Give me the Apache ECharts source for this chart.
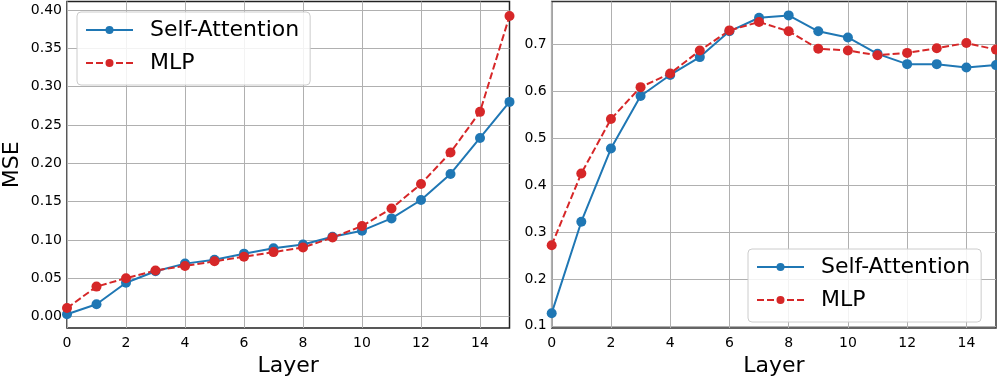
<!DOCTYPE html>
<html>
<head>
<meta charset="utf-8">
<script src="https://cdn.jsdelivr.net/npm/echarts@6/dist/echarts.min.js"></script>
<style>
  html, body { margin: 0; padding: 0; background: #fff; }
  #chart { width: 997px; height: 382px; }
</style>
</head>
<body>
<div id="chart"></div>
<script>
const layers = [0, 1, 2, 3, 4, 5, 6, 7, 8, 9, 10, 11, 12, 13, 14, 15];

// left panel: MSE per layer
const mseAttn = [0.003, 0.016, 0.044, 0.059, 0.069, 0.074, 0.082, 0.089, 0.094, 0.104, 0.112, 0.128, 0.152, 0.186, 0.233, 0.280];
const mseMlp = [0.011, 0.039, 0.050, 0.060, 0.066, 0.072, 0.078, 0.084, 0.090, 0.103, 0.118, 0.141, 0.173, 0.214, 0.267, 0.392];

// right panel
const rightAttn = [0.127, 0.322, 0.478, 0.590, 0.635, 0.673, 0.728, 0.757, 0.762, 0.728, 0.715, 0.680, 0.658, 0.658, 0.651, 0.656];
const rightMlp = [0.272, 0.425, 0.541, 0.609, 0.638, 0.687, 0.730, 0.748, 0.728, 0.691, 0.687, 0.677, 0.682, 0.692, 0.703, 0.689];

const xTicks = [0, 2, 4, 6, 8, 10, 12, 14];
const leftYTicks = [0, 0.05, 0.1, 0.15, 0.2, 0.25, 0.3, 0.35, 0.4];
const rightYTicks = [0.1, 0.2, 0.3, 0.4, 0.5, 0.6, 0.7];

const FONT = 'DejaVu Sans';
const BLUE = '#1f77b4';
const RED = '#d62728';

const chart = echarts.init(document.getElementById('chart'));

const pairs = (ys) => layers.map((x, i) => [x, ys[i]]);

const xAxisBase = (gridIndex) => ({
  type: 'value',
  gridIndex: gridIndex,
  min: 0,
  max: 15,
  name: 'Layer',
  nameLocation: 'middle',
  nameGap: 27,
  nameTextStyle: { fontFamily: FONT, fontSize: 22, color: '#000' },
  axisLine: { show: false },
  axisTick: { show: false, customValues: xTicks },
  axisLabel: { customValues: xTicks, fontFamily: FONT, fontSize: 14, color: '#000', margin: 8 },
  splitLine: { show: true, lineStyle: { color: '#b0b0b0', width: 1 } }
});

const yAxisBase = (gridIndex, ticks, min, max, digits) => ({
  type: 'value',
  gridIndex: gridIndex,
  min: min,
  max: max,
  axisLine: { show: false },
  axisTick: { show: false, customValues: ticks },
  axisLabel: {
    customValues: ticks,
    fontFamily: FONT, fontSize: 14, color: '#000', margin: 5,
    formatter: (v) => v.toFixed(digits)
  },
  splitLine: { show: true, lineStyle: { color: '#b0b0b0', width: 1 } }
});

const lineSeries = (name, data, idx, dashed) => ({
  name: name,
  type: 'line',
  xAxisIndex: idx,
  yAxisIndex: idx,
  data: data,
  symbol: 'circle',
  symbolSize: 10,
  showAllSymbol: true,
  color: dashed ? RED : BLUE,
  lineStyle: { width: 2, type: dashed ? [7, 3] : 'solid', color: dashed ? RED : BLUE },
  itemStyle: { color: dashed ? RED : BLUE },
  emphasis: { disabled: true },
  animation: false
});

const legendBase = {
  orient: 'vertical',
  data: ['Self-Attention', 'MLP'],
  selectedMode: false,
  itemWidth: 47,
  itemHeight: 10,
  itemGap: 11,
  padding: [7, 11, 11, 8],
  backgroundColor: 'rgba(255,255,255,0.85)',
  borderColor: '#cccccc',
  borderWidth: 1,
  borderRadius: 4,
  textStyle: { fontFamily: FONT, fontSize: 22, color: '#000', padding: [0, 0, 0, 12] }
};

chart.setOption({
  animation: false,
  grid: [
    { left: 65, right: 487.5, top: 1.5, bottom: 48, show: true, borderColor: '#222', borderWidth: 1.5, backgroundColor: 'transparent' },
    { left: 551.7, right: 1, top: 1.5, bottom: 47.5, show: true, borderColor: '#333', borderWidth: 1.5, backgroundColor: 'transparent' }
  ],
  legend: [
    Object.assign({}, legendBase, { left: 77, top: 12 }),
    Object.assign({}, legendBase, { left: 748, top: 249 })
  ],
  xAxis: [xAxisBase(0), xAxisBase(1)],
  yAxis: [
    Object.assign(yAxisBase(0, leftYTicks, -0.015, 0.411, 2), {
      name: 'MSE',
      nameLocation: 'middle',
      nameGap: 44,
      nameRotate: 90,
      nameTextStyle: { fontFamily: FONT, fontSize: 22, color: '#000' }
    }),
    yAxisBase(1, rightYTicks, 0.0954, 0.7916, 1)
  ],
  series: [
    lineSeries('Self-Attention', pairs(mseAttn), 0, false),
    lineSeries('MLP', pairs(mseMlp), 0, true),
    lineSeries('Self-Attention', pairs(rightAttn), 1, false),
    lineSeries('MLP', pairs(rightMlp), 1, true)
  ]
});

window.addEventListener('resize', () => {
  chart.resize();
});
</script>
</body>
</html>
